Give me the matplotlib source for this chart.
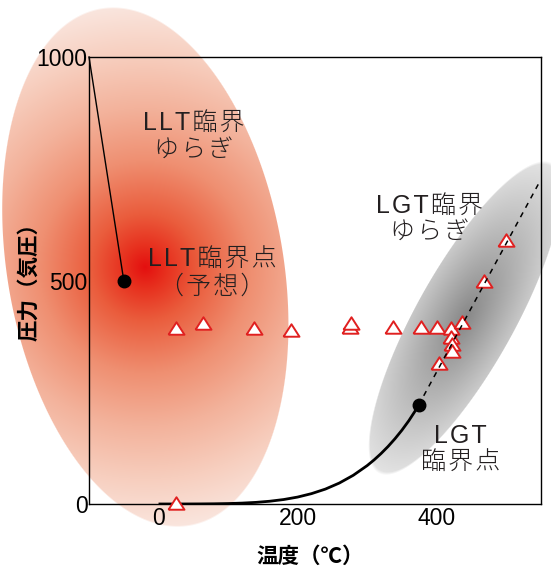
import numpy as np
import matplotlib.pyplot as plt

plt.rcParams['font.family'] = ['Liberation Sans', 'Noto Sans CJK JP', 'DejaVu Sans']

# 目盛り
x_ticks = [0, 200, 400]
y_ticks = [0, 500, 1000]

# 蒸気圧曲線 (℃, 気圧)
vap_t = [0, 20, 40, 60, 80, 100, 120, 140, 160, 180, 200, 220, 240, 260,
         280, 300, 310, 320, 330, 340, 350, 360, 370, 374]
vap_p = [0.006, 0.023, 0.074, 0.2, 0.47, 1.0, 2.0, 3.6, 6.2, 10.0, 15.5,
         23.2, 33.4, 46.9, 64.2, 85.9, 98.7, 112.9, 128.6, 146.0, 165.2,
         186.5, 210.4, 221]

# LGT臨界点から先の破線
widom_t = [374, 546]
widom_p = [221, 715]

# 臨界点
llt_cp = (-50, 500)
lgt_cp = (374, 221)

# 測定点
meas_t = [25, 25, 64, 137, 190, 275, 277, 337, 377, 401, 421, 436, 421,
          422, 422, 404, 468, 500]
meas_p = [3, 393, 404, 394, 390, 395, 406, 396, 396, 396, 394, 407, 373,
          357, 343, 315, 500, 591]

W, H = 551, 568
fig = plt.figure(figsize=(W / 100, H / 100), dpi=100)
bg = fig.add_axes([0, 0, 1, 1])
bg.set_axis_off()
ax = fig.add_axes([89 / W, (H - 504) / H, 452 / W, 447 / H])
ax.set_facecolor('none')
ax.set_zorder(2)
ax.set_xlim(-100, 550)
ax.set_ylim(0, 1000)


def cloud(center, a, b, tilt, ga, gb):
    # 楕円のゆらぎ領域 (ピクセル空間で計算)
    cx, cy = ax.transData.transform(center)
    yy, xx = np.mgrid[0:H, 0:W] + 0.5
    dx, dy = xx - cx, yy - cy
    th = np.deg2rad(tilt)
    ux, uy = np.sin(th), np.cos(th)
    u = dx * ux + dy * uy
    v = -dx * uy + dy * ux
    r = np.hypot(u / a, v / b)
    alpha = np.clip((1 - r) * b + 0.5, 0, 1)
    t = np.clip(np.hypot(u / ga, v / gb), 0, 1)
    return t, alpha


img = np.ones((H, W, 3))

# LLT ゆらぎ (赤)
t, al = cloud((-19, 530), 262, 138, -9.8, 265, 265)
stops = [0, 0.08, 0.2, 0.4, 0.6, 0.8, 1.0]
cols = np.array([(228, 15, 15), (231, 48, 30), (234, 92, 60), (239, 143, 113),
                 (243, 178, 155), (247, 206, 190), (250, 231, 224)]) / 255
col = np.stack([np.interp(t, stops, cols[:, i]) for i in range(3)], axis=-1)
img = img * (1 - al[..., None]) + col * al[..., None]

# LGT ゆらぎ (灰)
t, al = cloud((441, 416), 176, 49, 29.2, 200, 80)
g = np.clip(135 + 105 * t, 0, 245) / 255
col = np.stack([g, g, g], axis=-1)
img = img * (1 - al[..., None]) + col * al[..., None]

bg.imshow(img, origin='lower', extent=[0, W, 0, H], interpolation='nearest')
bg.set_xlim(0, W)
bg.set_ylim(0, H)

# 線と点
ax.plot(vap_t, vap_p, color='black', lw=2, zorder=3, solid_capstyle='butt')
ax.plot([-100, llt_cp[0]], [1000, llt_cp[1]], color='black', lw=1,
        zorder=3, clip_on=False)
tri = [(-1, -0.78), (1, -0.78), (0, 0.78), (-1, -0.78)]
ax.plot(meas_t, meas_p, linestyle='none', marker=tri, markersize=11.5,
        markerfacecolor='white', markeredgecolor='#e02020',
        markeredgewidth=1.4, zorder=4, clip_on=False)
ax.plot(widom_t, widom_p, color='black', lw=1.1, linestyle=(0, (3.5, 3.5)),
        zorder=5)
ax.plot([llt_cp[0], lgt_cp[0]], [llt_cp[1], lgt_cp[1]], linestyle='none',
        marker='o', markersize=9, color='black', zorder=6)


def sp(s):
    # 字間を少し広げる
    return '\n'.join('\u200a'.join(line) for line in s.split('\n'))


# 注記
tc = '#231f20'
notes = [(51, 823, 'LLT臨界\nゆらぎ'), (77, 517, 'LLT臨界点\n（予想）'),
         (390, 638, 'LGT臨界\nゆらぎ'), (434, 121, 'LGT\n臨界点')]
for x, y, s in notes:
    ax.text(x, y, sp(s), fontsize=18, ha='center', va='center', color=tc,
            linespacing=1.15, fontweight='light', zorder=7)

# 軸
ax.set_xticks(x_ticks)
ax.set_yticks(y_ticks)
ax.tick_params(axis='both', length=0, labelsize=16.5)
ax.tick_params(axis='x', pad=2.5)
ax.tick_params(axis='y', pad=1)
for s in ax.spines.values():
    s.set_linewidth(1.0)
ax.set_xlabel('温度（℃）', fontsize=15.5, fontweight='bold', va='center')
ax.xaxis.set_label_coords(0.49, -0.1186)
ax.set_ylabel('圧力（気圧）', fontsize=15.5, fontweight='bold', va='center')
ax.yaxis.set_label_coords(-0.1305, 0.508)

fig.savefig('out.png', dpi=100)
